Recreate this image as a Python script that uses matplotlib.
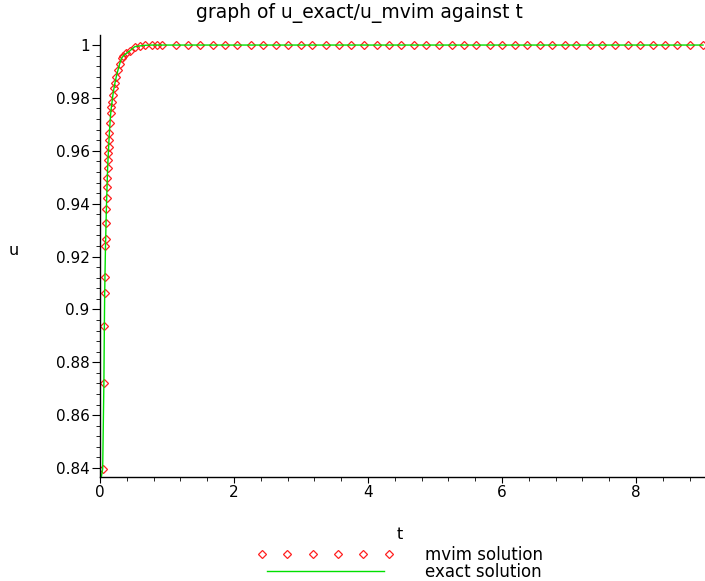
import matplotlib
matplotlib.use("Agg")
import matplotlib.pyplot as plt
from matplotlib.ticker import MultipleLocator, FormatStrFormatter
from matplotlib.legend_handler import HandlerLine2D

# values
t_mvim = [0.040, 0.058, 0.065, 0.070, 0.074, 0.082, 0.085, 0.090, 0.095, 0.100,
          0.105, 0.109, 0.114, 0.119, 0.124, 0.129, 0.134, 0.140, 0.149, 0.160,
          0.170, 0.180, 0.192, 0.208, 0.222, 0.243, 0.268, 0.295, 0.322, 0.345,
          0.395, 0.445, 0.52, 0.60, 0.67, 0.77,
          0.85, 0.93, 1.13, 1.31, 1.50, 1.68, 1.87, 2.05, 2.25, 2.44, 2.62, 2.80,
          3.00, 3.17, 3.37, 3.57, 3.74, 3.94, 4.14, 4.32, 4.49, 4.69, 4.86, 5.06,
          5.26, 5.43, 5.61, 5.82, 6.00, 6.19, 6.37, 6.56, 6.74, 6.94, 7.11, 7.31,
          7.49, 7.69, 7.88, 8.06, 8.26, 8.43, 8.61, 8.81, 9.00]
u_mvim = [0.8397, 0.8721, 0.8936, 0.9061, 0.9124, 0.9239, 0.9267, 0.9326, 0.9378, 0.9420,
          0.9463, 0.9496, 0.9534, 0.9564, 0.9590, 0.9614, 0.9640, 0.9666, 0.9704, 0.9742,
          0.9766, 0.9785, 0.9810, 0.9836, 0.9855, 0.9880, 0.9905, 0.9930, 0.9950, 0.9958,
          0.9969, 0.9978, 0.9994, 0.9997, 0.9999, 1.0,
          1.0, 1.0, 1.0, 1.0, 1.0, 1.0, 1.0, 1.0, 1.0, 1.0, 1.0, 1.0,
          1.0, 1.0, 1.0, 1.0, 1.0, 1.0, 1.0, 1.0, 1.0, 1.0, 1.0, 1.0,
          1.0, 1.0, 1.0, 1.0, 1.0, 1.0, 1.0, 1.0, 1.0, 1.0, 1.0, 1.0,
          1.0, 1.0, 1.0, 1.0, 1.0, 1.0, 1.0, 1.0, 1.0]
# exact solution starts a little lower, at the bottom of the view
t_exact = [0.02] + t_mvim
u_exact = [0.8366] + u_mvim

fig = plt.figure(figsize=(7.05, 5.81), dpi=100)
ax = fig.add_axes([100/705, 104/581, 605/705, 442/581])

mv, = ax.plot(t_mvim, u_mvim, linestyle='none', marker='D', markersize=4.2,
              mfc='none', mec='#ff2020', mew=0.9, label='mvim solution')
ex, = ax.plot(t_exact, u_exact, color='#00e000', lw=1.0, label='exact solution')

ax.set_xlim(0, 9.03)
ax.set_ylim(0.8366, 1.0038)

for s in ['top', 'right']:
    ax.spines[s].set_visible(False)
for s in ['left', 'bottom']:
    ax.spines[s].set_linewidth(1.0)

ax.xaxis.set_major_locator(MultipleLocator(2))
ax.xaxis.set_minor_locator(MultipleLocator(0.4))
ax.yaxis.set_major_locator(MultipleLocator(0.02))
ax.yaxis.set_minor_locator(MultipleLocator(0.004))
ax.yaxis.set_major_formatter(FormatStrFormatter('%g'))
ax.tick_params(axis='both', which='major', labelsize=11, direction='out')
ax.tick_params(axis='y', which='major', length=6, pad=1.5)
ax.tick_params(axis='y', which='minor', length=3)
ax.tick_params(axis='x', which='major', length=4, pad=2)
ax.tick_params(axis='x', which='minor', length=3)

ax.set_ylabel('u', rotation=0, fontsize=11.5)
ax.yaxis.set_label_coords(-0.142, 0.495)
ax.set_xlabel('t', fontsize=11.5)
ax.xaxis.set_label_coords(0.496, -0.113)

fig.text(0.51, 1 - 13/581, 'graph of u_exact/u_mvim against t',
         ha='center', va='center', fontsize=13.5)

fig.legend(handles=[mv, ex], loc='upper left',
           bbox_to_anchor=(262/705, 1 - 546/581), frameon=False,
           numpoints=6, handlelength=7.6, handletextpad=2.2,
           labelspacing=-0.08, borderpad=0, borderaxespad=0, fontsize=12,
           handler_map={mv: HandlerLine2D(marker_pad=0, numpoints=6)})

fig.savefig('out.png', dpi=100)
